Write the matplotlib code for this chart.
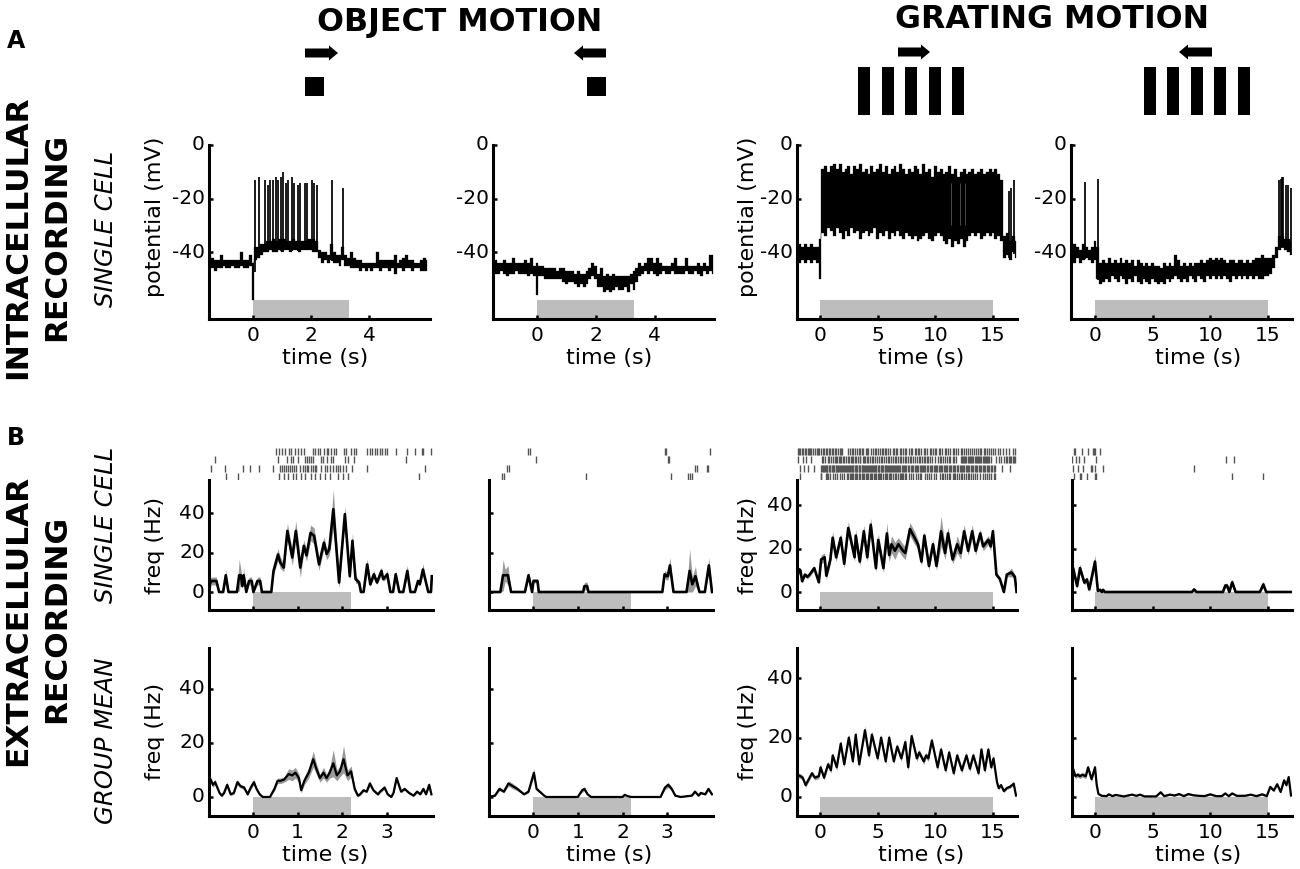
import numpy as np
import matplotlib
matplotlib.use("Agg")
import matplotlib.pyplot as plt
from matplotlib.patches import Polygon, Rectangle
from matplotlib.transforms import ScaledTranslation

plt.rcParams['font.family'] = ['DejaVu Sans']
plt.rcParams['axes.unicode_minus'] = False

# ---------- stimulus durations (s) ----------
DUR_A_OBJECT = 3.3
DUR_B_OBJECT = 2.2
DUR_GRATING = 15

# ---------- A: intracellular, object rightward: membrane envelope every 0.1 s, -1.5..6 s ----------
A1_hi = [-40,-42,-43,-43,-41,-43,-43,-43,-43,-43,
         -43,-40,-43,-43,-41,-44,-38,-38,-37,-37,
         -36,-36,-35,-36,-35,-35,-35,-36,-36,-35,
         -36,-36,-36,-36,-35,-35,-35,-36,-39,-40,
         -40,-41,-37,-40,-41,-41,-38,-41,-42,-40,
         -42,-43,-43,-44,-44,-44,-44,-44,-40,-43,
         -43,-43,-43,-43,-41,-44,-43,-42,-41,-43,
         -43,-44,-44,-43,-42,-43]
A1_lo = [-45,-46,-47,-46,-46,-45,-46,-46,-45,-46,
         -46,-45,-46,-46,-45,-58,-43,-42,-41,-40,
         -40,-39,-40,-40,-39,-40,-39,-39,-40,-39,
         -39,-40,-39,-39,-39,-39,-40,-40,-42,-44,
         -43,-44,-43,-44,-44,-45,-43,-45,-45,-46,
         -46,-46,-47,-46,-47,-46,-47,-46,-46,-47,
         -46,-46,-47,-46,-48,-46,-46,-47,-46,-46,
         -47,-46,-46,-47,-47,-47]
A1_spike_t = [.07,.21,.40,.52,.60,.69,.78,.87,.95,1.02,1.13,1.21,1.35,1.42,1.56,1.62,1.78,1.85,2.02,2.10,2.19,2.74,3.10]
A1_spike_v = [-13,-12,-13,-15,-13,-13,-12,-13,-12,-10,-14,-13,-12,-14,-15,-14,-14,-14,-13,-14,-15,-13,-16]

# ---------- A: object leftward ----------
A2_hi = [-40,-43,-44,-44,-43,-44,-44,-42,-44,-44,
         -44,-43,-44,-42,-45,-44,-45,-45,-46,-46,
         -46,-46,-47,-46,-46,-47,-47,-47,-48,-47,
         -48,-48,-47,-46,-44,-45,-48,-46,-49,-48,
         -49,-48,-49,-49,-49,-49,-49,-48,-47,-46,
         -44,-45,-44,-42,-42,-44,-42,-44,-45,-45,
         -45,-44,-42,-45,-45,-45,-42,-45,-45,-45,
         -44,-45,-44,-45,-41,-41]
A2_lo = [-47,-48,-48,-47,-48,-49,-48,-48,-47,-48,
         -48,-48,-49,-48,-49,-56,-49,-49,-50,-50,
         -50,-50,-50,-50,-51,-52,-51,-51,-52,-53,
         -52,-53,-52,-50,-49,-50,-53,-53,-55,-54,
         -55,-54,-53,-54,-54,-53,-55,-52,-54,-51,
         -49,-48,-47,-48,-47,-48,-49,-48,-47,-48,
         -48,-47,-48,-48,-48,-48,-47,-48,-48,-47,
         -48,-49,-47,-48,-47,-48]

# ---------- A: grating rightward: envelope every 0.25 s, -2..17 s ----------
A3_hi = [-38,-37,-38,-37,-38,-37,-38,-38,-35,
         -9,-8,-10,-8,-7,-9,-7,-10,-9,-8,
         -11,-8,-9,-7,-10,-9,-11,-8,-10,-9,
         -7,-10,-8,-11,-9,-8,-10,-7,-9,-11,
         -9,-10,-8,-9,-11,-7,-10,-9,-12,-8,
         -10,-9,-11,-10,-8,-11,-9,-12,-10,-9,
         -11,-10,-9,-11,-10,-9,-11,-10,-9,-10,
         -9,-11,-13,-34,-33,-36,-34,-36]
A3_lo = [-43,-44,-43,-44,-43,-44,-43,-44,-50,
         -33,-34,-31,-32,-34,-31,-33,-35,-32,-34,
         -31,-33,-32,-35,-33,-32,-34,-33,-31,-35,
         -33,-34,-32,-35,-33,-34,-32,-34,-35,-33,
         -34,-35,-34,-36,-35,-34,-33,-35,-36,-34,
         -33,-34,-36,-37,-35,-38,-36,-37,-35,-38,
         -36,-34,-33,-34,-33,-35,-34,-33,-34,-33,
         -35,-34,-36,-42,-41,-43,-40,-42]
A3_spike_t = [16.4, 16.55, 16.85]
A3_spike_v = [-17, -16, -13]
A3_gap_t = [11.4, 12.1, 12.55]

# ---------- A: grating leftward ----------
A4_hi = [-39,-37,-38,-39,-37,-38,-39,-38,-36,-38,
         -44,-43,-44,-42,-44,-43,-44,-42,-44,-43,
         -44,-43,-45,-43,-44,-45,-44,-45,-44,-45,
         -45,-46,-44,-45,-44,-45,-41,-43,-45,-44,
         -45,-44,-45,-44,-44,-43,-44,-43,-42,-43,
         -42,-43,-42,-43,-44,-43,-43,-44,-43,-43,
         -44,-43,-44,-43,-42,-42,-41,-42,-42,-42,
         -41,-38,-34,-34,-35,-35,-36]
A4_lo = [-43,-44,-42,-44,-43,-42,-43,-44,-43,-50,
         -52,-51,-50,-51,-49,-50,-51,-49,-50,-52,
         -50,-51,-49,-51,-52,-50,-51,-52,-50,-51,
         -52,-51,-52,-50,-51,-50,-49,-50,-51,-50,
         -51,-49,-50,-51,-49,-50,-51,-49,-50,-49,
         -50,-49,-50,-49,-50,-51,-49,-50,-49,-50,
         -49,-50,-49,-50,-49,-50,-50,-49,-49,-48,
         -46,-42,-39,-38,-39,-40,-41]
A4_spike_t = [-0.9, 0.29, 15.98, 16.1, 16.2, 16.33, 16.53, 16.76, 17.0]
A4_spike_v = [-13.7, -12.7, -13, -12.5, -12, -12, -15, -15, -16]

# ---------- B: single cell, object rightward ----------
B1_t = [-.99,-.93,-.82,-.76,-.67,-.61,-.55,-.36,-.31,-.27,
        -.24,-.21,-.15,-.09,-.03,.01,.10,.16,.20,.41,
        .46,.56,.61,.69,.77,.88,.96,1.06,1.14,1.20,
        1.29,1.37,1.48,1.59,1.65,1.71,1.80,1.93,2.06,2.17,
        2.23,2.30,2.38,2.42,2.48,2.56,2.63,2.71,2.78,2.88,
        2.92,3.01,3.08,3.14,3.20,3.28,3.37,3.46,3.53,3.63,
        3.70,3.74,3.81,3.93,3.99,4.01]
B1_f = [3.4,5.6,5.6,0,0,8.5,0,0,8.5,8.5,
        3,8.5,0,5.6,5.6,0,5.6,5.6,0,0,
        10.7,19,15,12.4,31,17.5,31,12.4,23.4,18.6,
        30,28.5,14,25,19.3,21.7,42,4.8,39.5,8,
        26,6.5,4.8,0,0,14,3.9,9,4.8,10.7,
        6.5,9,0,0,9,0,0,10.7,0,0,
        5.6,3.9,11.4,0,0,8]
B1_e = [3,2,2,0,0,3,0,0,8,3,
        1,4,0,2,2,0,2,2,0,0,
        2,3,3,2,4,4,5,5,3,3,
        4,4,3,3,3,3,10,3,4,2,
        4,2,1,0,0,3,1,2,1,2,
        1,2,0,0,2,0,0,3,0,0,
        1,1,3,0,0,2]

# ---------- B: single cell, object leftward ----------
B2_t = [-1,-.73,-.67,-.62,-.56,-.49,-.18,-.10,-.02,.01,
        .10,.13,1.12,1.15,1.21,1.24,2.89,2.94,2.99,3.01,
        3.06,3.14,3.43,3.50,3.56,3.63,3.72,3.84,3.93,4.0]
B2_f = [0,0,8.5,8.5,8.5,0,0,8.5,0,5.6,
        5.6,0,0,3,3,0,0,9,8,8,
        13.5,0,0,10.7,3.9,8,0,0,13.5,0]
B2_e = [0,0,8,3,5,0,0,2,0,1,
        1,0,0,2,2,0,0,2,2,2,
        4,0,0,11,4,5,0,0,4,0]

# ---------- B: single cell, grating rightward ----------
B3_t = [-2,-1.85,-1.7,-1.55,-1.3,-1.1,-.9,-.5,-.1,.1,
        .4,.55,.9,1.1,1.4,1.8,2.1,2.45,3.0,3.1,
        3.45,3.8,4.1,4.4,4.85,5.05,5.5,5.8,6.0,6.2,
        6.5,6.8,7.2,7.4,7.8,8.2,8.5,8.8,9.05,9.45,
        9.8,10.1,10.5,10.85,11.1,11.5,11.9,12.2,12.5,12.85,
        13.2,13.5,13.9,14.15,14.6,14.8,15,15.3,15.6,15.95,
        16.2,16.6,16.9,17.05]
B3_f = [5,10.5,10,5,8,7,8,11,4.5,15,
        16,7.5,15,25,16,25,13,29.5,16,26,
        14,28,16,31,11,24,11,27,17,22,
        19,22,19,18,29,25,22,14,26,12,
        22,12,28,18,27,15,22,18,28,19,
        28,19,27,21,24,21,28,8,6,0,
        8,9,7,0]
B3_e = [1,1,1,1,1,1,1,1,1,2,
        2,2,2,3,2,2,2,3,2,3,
        2,3,2,3,2,3,2,5,3,4,
        4,3,3,3,3,3,2,2,2,2,
        2,2,7,3,3,2,4,3,3,2,
        3,2,2,2,2,2,2,1,1,0,
        1,2,1,0]

# ---------- B: single cell, grating leftward ----------
B4_t = [-2,-1.9,-1.55,-1.3,-.92,-.7,-.5,0,.25,.45,
        .6,.7,.85,8.4,8.6,8.8,11.1,11.3,11.45,11.65,
        11.9,12.2,14.3,14.6,14.85,17]
B4_f = [3,11,2.7,11,4.3,5.8,1.2,14,.5,1,
        0,1,0,0,1.2,0,0,3,3,0,
        4.5,0,0,3.5,0,0]
B4_e = [1,2,1,2,1,1,1,3,.5,.5,
        0,.5,0,0,.5,0,0,1,1,0,
        1.5,0,0,1.5,0,0]

# ---------- C: group mean ----------
C1_t = [-1,-.95,-.9,-.85,-.75,-.7,-.65,-.58,-.5,-.43,
        -.35,-.28,-.2,-.12,-.05,.02,.08,.15,.22,.38,
        .48,.55,.62,.7,.8,.88,.95,1.03,1.08,1.15,
        1.25,1.35,1.42,1.5,1.58,1.65,1.72,1.8,1.88,1.95,
        2.03,2.12,2.2,2.28,2.35,2.4,2.48,2.55,2.62,2.7,
        2.8,2.85,2.95,3.02,3.1,3.15,3.22,3.32,3.4,3.5,
        3.6,3.68,3.75,3.82,3.88,3.95,4]
C1_f = [3,6.5,4.5,5.5,1.5,.5,1.5,4.5,1,1.5,
        5.5,4,3.5,1,3.5,5.5,3,1,0,0,
        3,6,6,6.5,8.5,8,9,7,2.5,6,
        9,14,10.5,7,9,7,9,12.5,8,9.5,
        14,8,9.5,3,.5,1,2.5,2,5,2.5,
        1,2,3.5,1,0,1.5,7,2,3,1.5,
        .5,2,1,3,1,4.5,1]
C1_e = [1,1,1,1,.5,.5,.5,1,.5,.5,
        1,.7,.7,.5,.7,1,.5,.5,0,0,
        .8,1,1,1,2,2,2,1.5,1,1.5,
        2,3,2,1.5,2,1.5,2,5,2,2,
        5,2,2,1,.5,.5,.5,.5,1,.5,
        .5,.5,.7,.5,0,.5,1,.5,.5,.5,
        .3,.5,.3,.7,.3,1,.5]

C2_t = [-1,-.85,-.75,-.65,-.55,-.45,-.35,-.2,-.1,.02,
        .08,.15,.25,.3,1.0,1.1,1.15,1.22,1.3,2.0,
        2.05,2.12,2.2,2.85,2.95,3.02,3.1,3.18,3.3,3.55,
        3.62,3.7,3.75,3.85,3.92,4]
C2_f = [0,.5,3,2,5,4,3,1,2,9,
        3,2,.5,0,0,2.5,3,1,0,0,
        .8,.3,0,0,3.5,4.5,3,.5,0,.5,
        2,.5,1.5,1,3,1]
C2_e = [0,.3,.7,.5,1,1,.7,.3,.5,1.5,
        .7,.5,.2,0,0,.7,.8,.3,0,0,
        .3,.1,0,0,.8,1,.7,.2,0,.2,
        .5,.2,.4,.3,.7,.3]

C3_t = [-2,-1.7,-1.5,-1.25,-.7,-.45,-.1,.05,.35,.7,
        .95,1.1,1.45,1.8,2.1,2.5,2.85,3.1,3.4,3.9,
        4.25,4.5,5.0,5.3,5.7,6.0,6.4,6.7,7.05,7.4,
        7.65,7.95,8.4,8.6,9.0,9.2,9.4,9.7,10.2,10.5,
        10.9,11.2,11.6,11.9,12.3,12.7,13.0,13.3,13.75,14.0,
        14.3,14.6,14.85,15.05,15.35,15.5,15.7,15.95,16.2,16.5,
        16.8,17]
C3_f = [7.5,7,6.5,4,8,6.5,7,10,6.5,11,
        9,14,10,18,11,20,12,21,11,22.5,
        14,21,13,20,12,20,12,17,13,18.5,
        10,20.5,13,15,12,14,13,19,10,16,
        9,15,8,14,9,14,9.5,14,8,16,
        9,16,10,13,5,3,4,2,3,3.5,
        4.5,.5]
C3_e = [.8,.8,.8,.8,.8,.8,.8,1,.8,1,
        1,1,1,1.2,1,1.2,1,1.2,1,1.5,
        1,1.2,1,1.2,1,1.2,1,1,1,1.2,
        1,1.2,1,1,1,1,1,1.2,1,1,
        1,1,1,1,1,1,1,1,1,1,
        1,1,1,1,.6,.6,.6,.5,.5,.5,
        .5,.5]

C4_t = [-2,-1.9,-1.7,-1.5,-1.3,-1.1,-.8,-.6,-.3,0,
        .15,.3,.6,1,1.2,1.5,1.8,2.5,3.2,3.6,
        3.9,4.3,5.3,5.7,6,6.5,6.9,7.3,7.7,8.1,
        8.5,9,9.5,10,10.5,11,11.3,11.6,11.9,12.3,
        13,13.5,14,14.5,14.9,15.2,15.5,15.8,16.1,16.4,
        16.6,16.8,17]
C4_f = [7,9.5,7,7.5,7,7.5,7,10,6,10,
        4,1,.4,.3,.9,.3,.7,.2,.8,.4,
        .8,.2,.2,1.6,.3,.8,.5,1,.3,1,
        .6,.4,.3,.9,.3,.3,1.2,.3,1.2,.4,
        .4,.8,.3,.9,.3,3.4,2.2,4.3,1.7,5.6,
        4,6.7,.5]
C4_e = [.8,.8,.8,.8,.8,.8,.8,.8,.8,.8,
        .5,.3,.2,.2,.2,.2,.2,.2,.2,.2,
        .2,.2,.2,.3,.2,.2,.2,.3,.2,.3,
        .2,.2,.2,.3,.2,.2,.3,.2,.3,.2,
        .2,.2,.2,.3,.2,.5,.5,.6,.5,.7,
        .7,.8,.5]

# ---------- rasters (spike times, s) ----------
R1 = [[.52,.58,.66,.72,.80,.85,.95,1.0,1.08,1.15,1.35,1.38,1.45,1.51,1.59,1.65,1.69,1.74,1.81,1.86,2.03,2.08,2.2,2.26,2.32,2.56,2.62,2.67,2.73,2.78,2.84,2.89,2.97,3.01,3.2,3.45,3.64,3.78,3.81,4.0],
      [-.85,.56,.77,.86,.90,1.01,1.16,1.2,1.25,1.31,1.35,1.53,1.57,1.65,1.76,1.8,2.06,2.13,2.26,3.43],
      [-.95,-.62,-.22,-.06,.13,.45,.61,.66,.70,.75,.79,.84,.88,.93,.97,1.05,1.12,1.16,1.20,1.24,1.31,1.35,1.38,1.42,1.53,1.61,1.66,1.72,1.80,1.85,1.91,1.96,2.02,2.09,2.23,2.56,3.85],
      [-.6,-.33,.58,.7,.79,.9,.97,1.08,1.16,1.29,1.38,1.5,1.61,1.72,1.91,2.02,2.13,3.72]]
R2 = [[-.11,-.07,2.94,2.98,3.95],
      [.06,3.02,3.05],
      [-.58,-.54,3.61,3.66,3.89,3.92],
      [-.69,-.65,1.18,3.08,3.47,3.51,3.55]]
R3 = [[-1.95,-1.8,-1.7,-1.55,-1.45,-1.3,-1.2,-1.05,-.95,-.85,-.75,-.6,-.45,-.3,-.2,-.05,.1,.25,.35,.5,.6,.75,.9,1.0,1.15,1.3,1.4,1.55,1.7,1.8,1.95,2.4,2.6,2.75,2.9,3.0,3.2,3.35,3.5,3.6,3.75,3.95,4.1,4.2,4.4,4.6,4.75,4.9,5.0,5.2,5.35,5.5,5.6,5.75,5.9,6.1,6.3,6.45,6.6,6.7,6.9,7.05,7.2,7.4,7.5,7.7,7.85,8.0,8.2,8.35,8.5,8.6,8.8,9.0,9.15,9.3,9.5,9.6,9.8,9.95,10.1,10.3,10.4,10.6,10.8,10.95,11.1,11.3,11.5,11.6,11.8,12.0,12.2,12.3,12.5,12.7,12.85,13.0,13.2,13.35,13.5,13.7,13.85,14.0,14.2,14.35,14.5,14.65,14.8,15.0,15.2,15.4,15.6,15.9,16.1,16.4,16.7,16.9],
      [-1.95,-1.5,-1.2,-.8,.2,.3,.45,.7,.8,.95,1.1,1.3,1.35,1.5,1.65,1.75,1.85,2.0,2.1,2.25,2.4,2.5,2.65,2.8,2.85,3.05,3.1,3.3,3.45,3.5,3.7,3.8,3.9,4.1,4.2,4.35,4.55,4.6,4.8,4.95,5.1,5.3,5.4,5.55,5.7,5.9,6.0,6.2,6.35,6.5,6.6,6.8,6.95,7.05,7.2,7.35,7.5,7.6,7.8,7.9,8.1,8.25,8.4,8.55,8.7,8.85,9.0,9.1,9.25,9.4,9.55,9.7,10.0,10.2,10.4,10.5,10.7,10.85,11.0,11.2,11.3,11.5,11.65,11.8,12.2,12.3,12.4,12.5,12.6,12.7,12.8,12.9,13.0,13.1,13.2,13.3,13.4,13.5,13.6,13.7,13.8,13.9,14.0,14.1,14.2,14.3,14.4,14.5,14.6,14.7,14.85,15.3,15.5,15.7,16.0,16.1,16.2,16.4,16.5,16.6,16.7,16.8,16.9],
      [-1.7,-1.4,-1.0,-.5,.1,.15,.25,.35,.4,.5,.6,.65,.75,.85,.9,1.0,1.1,1.15,1.25,1.35,1.4,1.5,1.6,1.65,1.75,1.85,1.9,2.0,2.1,2.15,2.25,2.35,2.4,2.5,2.6,2.65,2.75,2.85,2.9,3.0,3.1,3.15,3.25,3.35,3.4,3.5,3.6,3.65,3.75,3.85,3.9,4.0,4.1,4.15,4.25,4.35,4.4,4.5,4.6,4.65,4.75,4.85,4.9,5.0,5.1,5.15,5.25,5.35,5.4,5.5,5.6,5.65,5.75,5.85,5.9,6.0,6.1,6.15,6.25,6.35,6.4,6.5,6.6,6.65,6.75,6.85,6.95,7.1,7.2,7.3,7.4,7.5,7.65,7.75,7.85,7.95,8.1,8.2,8.3,8.4,8.5,8.65,8.75,8.85,8.95,9.05,9.15,9.3,9.4,9.5,9.6,9.7,9.85,9.95,10.05,10.15,10.3,10.4,10.5,10.6,10.75,10.85,10.95,11.05,11.2,11.3,11.4,11.5,11.65,11.75,11.85,11.95,12.1,12.2,12.3,12.4,12.5,12.65,12.75,12.85,12.95,13.1,13.2,13.3,13.4,13.55,13.65,13.75,13.85,14.0,14.1,14.2,14.3,14.45,14.55,14.65,14.8,14.9,15.05,15.2,15.75,16.45],
      [-1.75,.05,.1,.55,.65,.7,.9,1.15,1.3,1.5,1.7,1.9,2.1,2.3,2.4,2.6,2.7,2.8,2.9,3.05,3.15,3.25,3.35,3.5,3.6,3.7,3.85,4.0,4.1,4.2,4.3,4.45,4.55,4.65,4.75,4.85,5.0,5.1,5.2,5.3,5.5,5.6,5.7,5.85,6.0,6.1,6.2,6.35,6.5,6.6,6.75,6.9,7.0,7.1,7.2,7.4,7.5,7.75,7.9,8.05,8.35,8.5,8.65,8.8,9.15,9.3,9.45,9.6,9.85,10.1,10.4,10.55,10.7,10.85,11.0,11.15,11.3,11.55,11.65,11.75,11.9,12.05,12.2,12.35,12.5,12.65,12.8,12.95,13.1,13.3,13.45,13.65,13.85,14.1,14.3,14.45,14.65,14.85,15.05,15.2]]
R4 = [[-1.82,-1.73,-1.16,-.64,-.14,-.06,.03,.4],
      [-1.97,-1.65,-1.36,-.92,.06,11.33,12.02],
      [-1.88,-1.45,-1.07,-.38,-.23,0,.66,8.61],
      [-1.82,-1.3,-1.24,-.72,0,.06,11.85,14.6]]

# ---------- labels ----------
TITLES = ["OBJECT MOTION", "GRATING MOTION"]
XLABEL = "time (s)"
VLABEL = "potential (mV)"
FLABEL = "freq (Hz)"
V_TICKS = [0, -20, -40]
F_TICKS = [0, 20, 40]
OBJ_A_TICKS = [0, 2, 4]
OBJ_B_TICKS = [0, 1, 2, 3]
GRAT_TICKS = [0, 5, 10, 15]

W, H = 1300, 870
fig = plt.figure(figsize=(13, 8.7), dpi=100)
GRAY = '#bdbdbd'
BAND = '#9a9a9a'


def make_axes(left, right, top, bottom, x0, xs, y0, ys):
    """Axes from pixel rectangle; x0/y0: pixel of value 0, xs/ys: px per unit."""
    ax = fig.add_axes([left / W, 1 - bottom / H, (right - left) / W, (bottom - top) / H])
    ax.set_xlim((left - x0) / xs, (right - x0) / xs)
    ax.set_ylim((y0 - bottom) / ys, (y0 - top) / ys)
    ax.patch.set_alpha(0)
    for s in ('top', 'right'):
        ax.spines[s].set_visible(False)
    for s in ('left', 'bottom'):
        ax.spines[s].set_linewidth(2.2)
    ax.tick_params(direction='in', length=3, width=1.8, labelsize=14.5, pad=5)
    return ax


def finish(ax, xticks, yticks, xlab, ylab):
    ax.set_xticks(xticks)
    ax.set_yticks(yticks)
    ax.tick_params(axis='x', pad=4)
    ax.tick_params(axis='y', pad=3)
    if not xlab:
        ax.set_xticklabels([])
    if not ylab:
        ax.set_yticklabels([])
    up = ScaledTranslation(0, 3 / 100, fig.dpi_scale_trans)
    for lab in ax.get_yticklabels():
        lab.set_transform(lab.get_transform() + up)


def txt(x, y, s, **kw):
    kw.setdefault('ha', 'center')
    kw.setdefault('va', 'center')
    fig.text(x / W, 1 - y / H, s, **kw)


def intra(ax, hi, lo, t0, t1, dur, spk_t=(), spk_v=()):
    t = np.linspace(t0, t1, len(hi))
    ax.fill_between([0, dur], -64.5, -58, color=GRAY, lw=0, zorder=1)
    ax.fill_between(t, lo, hi, color='k', lw=0.2, step='mid', zorder=3)
    if len(spk_t):
        base = np.interp(spk_t, t, lo)
        ax.vlines(spk_t, base, spk_v, color='k', lw=1.25, zorder=3)


def freq(ax, t, f, e, dur, low, lw=1.9):
    t, f, e = map(np.asarray, (t, f, e))
    ax.fill_between([0, dur], low, 0, color=GRAY, lw=0, zorder=1)
    ax.fill_between(t, np.maximum(f - e, 0), f + e, color=BAND, lw=0, zorder=2)
    ax.plot(t, f, color='k', lw=lw, zorder=3, solid_joinstyle='round')


def raster(left, right, x0, xs, rows, lw=1.0):
    ax = fig.add_axes([left / W, 1 - 481 / H, (right - left) / W, 34 / H])
    ax.set_xlim((left - x0) / xs, (right - x0) / xs)
    ax.set_ylim(481, 447)
    ax.axis('off')
    ax.eventplot(rows, lineoffsets=[452, 460.5, 469, 477], linelengths=7,
                 colors='#555555', linewidths=lw)


# ---------- row A ----------
a1 = make_axes(209, 430, 146, 320, 253, 29.0, 146, 2.68)
a2 = make_axes(493, 714, 146, 320, 537, 29.4, 146, 2.68)
a3 = make_axes(797, 1017, 146, 320, 820, 11.53, 146, 2.68)
a4 = make_axes(1071, 1292, 146, 320, 1095, 11.53, 146, 2.68)
intra(a1, A1_hi, A1_lo, -1.5, 6.0, DUR_A_OBJECT, A1_spike_t, A1_spike_v)
intra(a2, A2_hi, A2_lo, -1.5, 6.0, DUR_A_OBJECT)
intra(a3, A3_hi, A3_lo, -2, 17, DUR_GRATING, A3_spike_t, A3_spike_v)
a3.vlines(A3_gap_t, -30, -14, color='#555555', lw=0.6, zorder=4)
intra(a4, A4_hi, A4_lo, -2, 17, DUR_GRATING, A4_spike_t, A4_spike_v)
finish(a1, OBJ_A_TICKS, V_TICKS, True, True)
finish(a2, OBJ_A_TICKS, V_TICKS, True, True)
finish(a3, GRAT_TICKS, V_TICKS, True, True)
finish(a4, GRAT_TICKS, V_TICKS, True, True)

# ---------- row B: single cell ----------
b1 = make_axes(209, 433, 481, 611, 253, 44.6, 593, 1.97)
b2 = make_axes(489, 713, 481, 611, 533, 44.75, 593, 1.97)
b3 = make_axes(797, 1017, 481, 611, 820, 11.53, 593, 2.17)
b4 = make_axes(1072, 1292, 481, 611, 1095, 11.53, 593, 2.17)
freq(b1, B1_t, B1_f, B1_e, DUR_B_OBJECT, -8.7)
freq(b2, B2_t, B2_f, B2_e, DUR_B_OBJECT, -8.7)
freq(b3, B3_t, B3_f, B3_e, DUR_GRATING, -7.9)
freq(b4, B4_t, B4_f, B4_e, DUR_GRATING, -7.9)
finish(b1, OBJ_B_TICKS, F_TICKS, False, True)
finish(b2, OBJ_B_TICKS, F_TICKS, False, False)
finish(b3, GRAT_TICKS, F_TICKS, False, True)
finish(b4, GRAT_TICKS, F_TICKS, False, False)
raster(209, 433, 253, 44.6, R1)
raster(489, 713, 533, 44.75, R2)
raster(797, 1017, 820, 11.53, R3)
raster(1072, 1292, 1095, 11.53, R4)

# ---------- row C: group mean ----------
c1 = make_axes(209, 433, 649, 817, 253, 44.6, 798, 2.7)
c2 = make_axes(489, 713, 649, 817, 533, 44.75, 798, 2.7)
c3 = make_axes(797, 1017, 649, 817, 820, 11.53, 798, 2.97)
c4 = make_axes(1072, 1292, 649, 817, 1095, 11.53, 798, 2.97)
freq(c1, C1_t, C1_f, C1_e, DUR_B_OBJECT, -6.5, 1.6)
freq(c2, C2_t, C2_f, C2_e, DUR_B_OBJECT, -6.5, 1.6)
freq(c3, C3_t, C3_f, C3_e, DUR_GRATING, -6, 1.6)
freq(c4, C4_t, C4_f, C4_e, DUR_GRATING, -6, 1.6)
finish(c1, OBJ_B_TICKS, F_TICKS, True, True)
finish(c2, OBJ_B_TICKS, F_TICKS, True, False)
finish(c3, GRAT_TICKS, F_TICKS, True, True)
finish(c4, GRAT_TICKS, F_TICKS, True, False)

# ---------- text ----------
txt(460, 22, TITLES[0], fontsize=22.8, fontweight='bold')
txt(1052, 19, TITLES[1], fontsize=22.8, fontweight='bold')
txt(16, 41, "A", fontsize=17, fontweight='bold')
txt(16, 438, "B", fontsize=17, fontweight='bold')
for x, y, s in [(18, 237, "INTRACELLULAR"), (57, 237, "RECORDING"),
                (18, 620, "EXTRACELLULAR"), (57, 619, "RECORDING")]:
    txt(x, y, s, fontsize=22.5, fontweight='bold', rotation=90)
for y, s in [(229, "SINGLE CELL"), (525, "SINGLE CELL"), (741, "GROUP MEAN")]:
    txt(106, y, s, fontsize=17.6, style='italic', rotation=90)
for x in (155, 748):
    txt(x, 217, VLABEL, fontsize=16, rotation=90)
    txt(x, 545, FLABEL, fontsize=16, rotation=90)
    txt(x, 731, FLABEL, fontsize=16, rotation=90)
for x in (325, 609, 921, 1198):
    txt(x, 358, XLABEL, fontsize=16)
    txt(x, 855, XLABEL, fontsize=16)


# ---------- stimulus icons ----------
def px(x, y):
    return (x / W, 1 - y / H)


def arrow(x0, x1, y):
    d = 1 if x1 > x0 else -1
    head = x1 - d * 9
    pts = [px(x0, y - 4.5), px(head, y - 4.5), px(head, y - 7.5), px(x1, y),
           px(head, y + 7.5), px(head, y + 4.5), px(x0, y + 4.5)]
    fig.add_artist(Polygon(pts, closed=True, color='k', lw=0, transform=fig.transFigure))


def block(x0, x1, y0, y1):
    fig.add_artist(Rectangle(px(x0, y1), (x1 - x0) / W, (y1 - y0) / H, color='k', lw=0,
                             transform=fig.transFigure))


arrow(305, 338, 54)
block(305, 324, 78, 97)
arrow(606, 574, 54)
block(587, 606, 78, 97)
arrow(898, 930, 53)
for x in (858, 882, 905, 929, 952):
    block(x, x + 12, 68, 116)
arrow(1212, 1179, 53)
for x in (1144, 1167, 1191, 1214, 1238):
    block(x, x + 12, 68, 116)

fig.savefig("out.png", dpi=100, facecolor='white')
